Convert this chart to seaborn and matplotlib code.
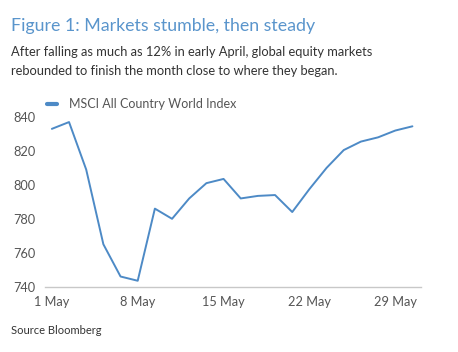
import matplotlib
matplotlib.use("Agg")
import matplotlib.pyplot as plt
import seaborn as sns
import pandas as pd

# Trading days in May (index positions) and index levels
dates = ["1 May", "2 May", "3 May", "6 May", "7 May", "8 May", "9 May", "10 May",
         "13 May", "14 May", "15 May", "16 May", "17 May", "20 May", "21 May",
         "22 May", "23 May", "24 May", "27 May", "28 May", "29 May", "30 May"]
values = [833, 837, 809, 765, 746, 743.5, 786, 780, 792, 801, 803.5, 792,
          793.5, 794, 784, 797.5, 810, 820.5, 825.5, 828, 832, 834.5]
tick_labels = ["1 May", "8 May", "15 May", "22 May", "29 May"]
y_ticks = [740, 760, 780, 800, 820, 840]
series_name = "MSCI All Country World Index"

df = pd.DataFrame({"pos": range(len(dates)), "date": dates, "value": values,
                   "series": series_name})

sns.set_theme(style="white")
plt.rcParams["font.family"] = ["Lato", "DejaVu Sans"]

fig = plt.figure(figsize=(4.58, 3.52), dpi=100)
ax = fig.add_axes([45/458, 1-286.7/352, (421-45)/458, (286.7-100)/352])

line_color = "#4d8ac6"
sns.lineplot(data=df, x="pos", y="value", hue="series", palette=[line_color],
             linewidth=1.4, ax=ax)

ax.set_xlim(-0.4, 21.5)
ax.set_ylim(740, 850)
ax.set_yticks(y_ticks)
ax.set_yticklabels([str(v) for v in y_ticks])
tick_pos = [dates.index(t) for t in tick_labels]
ax.set_xticks(tick_pos)
ax.set_xticklabels(tick_labels)
ax.set_xlabel("")
ax.set_ylabel("")
for s in ["top", "right", "left"]:
    ax.spines[s].set_visible(False)
ax.spines["bottom"].set_color("#c8c8c8")
ax.spines["bottom"].set_linewidth(1.0)
ax.tick_params(axis="both", length=0, labelsize=9.2, colors="#555555")
ax.tick_params(axis="y", pad=7)
ax.tick_params(axis="x", pad=7)

leg = ax.legend(loc="upper left", bbox_to_anchor=(-0.025, 1.07), frameon=False,
                handlelength=0.85, handletextpad=0.9, fontsize=9)
for h in leg.get_lines():
    h.set_linewidth(3)
for t in leg.get_texts():
    t.set_color("#555555")

fig.text(11/458, 1-31/352, "Figure 1: Markets stumble, then steady",
         fontsize=12.8, color="#5a95cc", ha="left", va="baseline")
fig.text(11/458, 1-56/352, "After falling as much as 12% in early April, global equity markets",
         fontsize=9.3, color="#333333", ha="left", va="baseline")
fig.text(11/458, 1-75/352, "rebounded to finish the month close to where they began.",
         fontsize=9.3, color="#333333", ha="left", va="baseline")
fig.text(11/458, 1-334/352, "Source Bloomberg", fontsize=8, color="#333333",
         ha="left", va="baseline")

fig.savefig("out.png", dpi=100)
